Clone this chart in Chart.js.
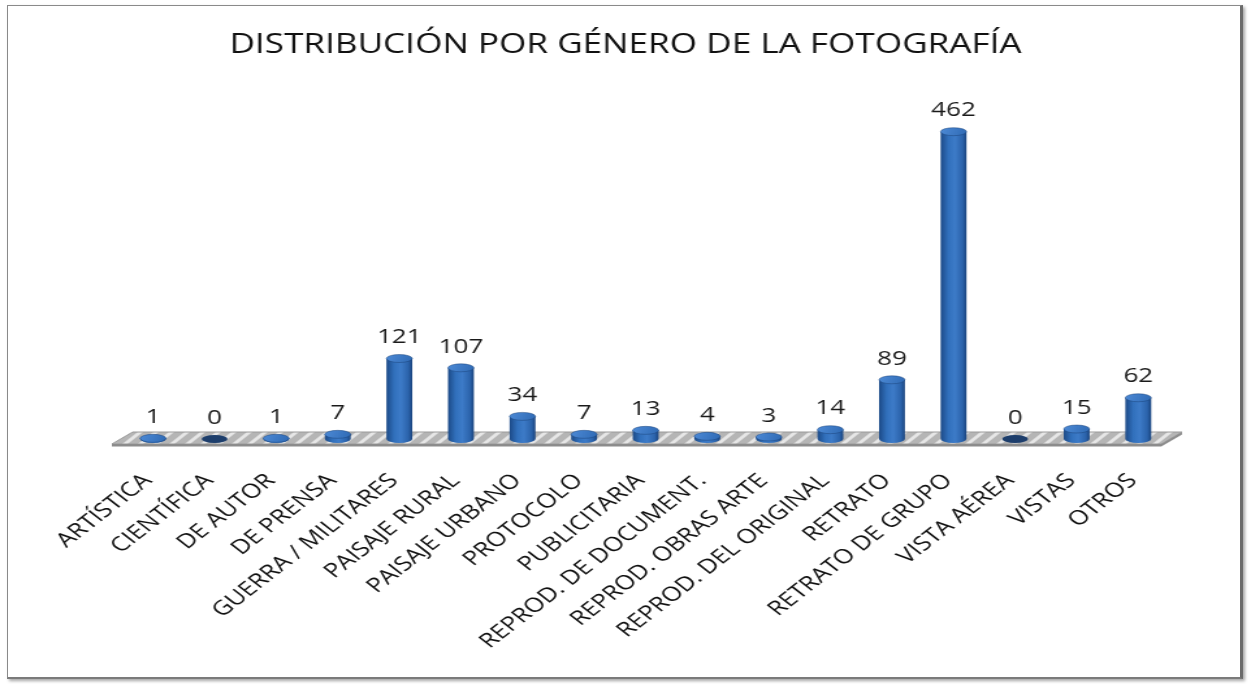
<!DOCTYPE html>
<html>
<head>
<meta charset="utf-8">
<script src="https://cdn.jsdelivr.net/npm/chart.js@4.4.0/dist/chart.umd.min.js"></script>
<style>
  html, body { margin: 0; padding: 0; background: #fff; overflow: hidden; }
  /* the reference is an Excel chart stretched sideways, so the chart is drawn narrow and stretched */
  #wrap { position: absolute; left: 0; top: 0; width: 962px; height: 684px; transform: scaleX(1.3004); transform-origin: 0 0; }
  #frame { position: absolute; left: 7px; top: 5px; width: 1232px; height: 671px;
           border: 1px solid #8a8a8a; border-right: 3px solid #6b6b6b; border-bottom: 2px solid #7a7a7a;
           box-shadow: 2px 2px 3px rgba(0,0,0,0.35); pointer-events: none; }
</style>
</head>
<body>
<div id="wrap"><canvas id="chart" width="962" height="684" style="width:962px;height:684px"></canvas></div>
<div id="frame"></div>
<script>
// --- data ---
const chartTitle = 'DISTRIBUCIÓN POR GÉNERO DE LA FOTOGRAFÍA';
const categories = [
  'ARTÍSTICA', 'CIENTÍFICA', 'DE AUTOR', 'DE PRENSA', 'GUERRA / MILITARES',
  'PAISAJE RURAL', 'PAISAJE URBANO', 'PROTOCOLO', 'PUBLICITARIA', 'REPROD. DE DOCUMENT.',
  'REPROD. OBRAS ARTE', 'REPROD. DEL ORIGINAL', 'RETRATO', 'RETRATO DE GRUPO',
  'VISTA AÉREA', 'VISTAS', 'OTROS'
];
const values = [1, 0, 1, 7, 121, 107, 34, 7, 13, 4, 3, 14, 89, 462, 0, 15, 62];

const BAR_PCT = 0.42;
const RY = 4; // ellipse half height of the cylinder caps

function halfWidth(chart) {
  return chart.chartArea.width / categories.length * BAR_PCT / 2;
}

function sideFill(ctx, cx, hw) {
  const g = ctx.createLinearGradient(cx - hw, 0, cx + hw, 0);
  g.addColorStop(0, '#1c4a87');
  g.addColorStop(0.3, '#3170bc');
  g.addColorStop(0.55, '#3d7bc8');
  g.addColorStop(0.85, '#2b63ab');
  g.addColorStop(1, '#19437d');
  return g;
}

// striped grey floor
function floorPattern(ctx) {
  const pc = document.createElement('canvas');
  pc.width = 12; pc.height = 12;
  const p = pc.getContext('2d');
  p.fillStyle = '#b5b5b5';
  p.fillRect(0, 0, 12, 12);
  p.strokeStyle = '#e6e6e6';
  p.lineWidth = 3;
  p.beginPath();
  p.moveTo(0, 12); p.lineTo(12, 0);
  p.moveTo(-6, 6); p.lineTo(6, -6);
  p.moveTo(6, 18); p.lineTo(18, 6);
  p.stroke();
  return ctx.createPattern(pc, 'repeat');
}

const cylinderPlugin = {
  id: 'cylinder',
  beforeDatasetsDraw(chart) {
    const ctx = chart.ctx;
    const { left, right } = chart.chartArea;
    const y0 = chart.scales.y.getPixelForValue(0);
    ctx.save();
    // top of the floor
    ctx.beginPath();
    ctx.moveTo(left - 8, y0 + 5);
    ctx.lineTo(left + 8, y0 - 7);
    ctx.lineTo(right + 10, y0 - 7);
    ctx.lineTo(right - 6, y0 + 5);
    ctx.closePath();
    ctx.fillStyle = floorPattern(ctx);
    ctx.fill();
    ctx.strokeStyle = '#9a9a9a';
    ctx.lineWidth = 1;
    ctx.stroke();
    // front and side edges
    ctx.fillStyle = '#8c8c8c';
    ctx.fillRect(left - 8, y0 + 5, right - left + 2, 2.5);
    ctx.beginPath();
    ctx.moveTo(right - 6, y0 + 5);
    ctx.lineTo(right + 10, y0 - 7);
    ctx.lineTo(right + 10, y0 - 4.5);
    ctx.lineTo(right - 6, y0 + 7.5);
    ctx.closePath();
    ctx.fill();
    ctx.restore();
  },
  afterDatasetsDraw(chart) {
    const ctx = chart.ctx;
    const meta = chart.getDatasetMeta(0);
    const y0 = chart.scales.y.getPixelForValue(0);
    const hw = halfWidth(chart);
    ctx.save();
    meta.data.forEach((bar, i) => {
      const cx = bar.x;
      const yTop = bar.y;
      if (values[i] === 0) {
        ctx.beginPath();
        ctx.ellipse(cx, y0, hw, RY, 0, 0, Math.PI * 2);
        ctx.fillStyle = '#1d3e6c';
        ctx.fill();
      } else {
        // rounded bottom
        ctx.beginPath();
        ctx.ellipse(cx, y0, hw, RY, 0, 0, Math.PI);
        ctx.fillStyle = sideFill(ctx, cx, hw);
        ctx.fill();
        // top cap
        const g = ctx.createLinearGradient(cx - hw, yTop - RY, cx + hw, yTop + RY);
        g.addColorStop(0, '#4d8ad6');
        g.addColorStop(1, '#2f6ab4');
        ctx.beginPath();
        ctx.ellipse(cx, yTop, hw, RY, 0, 0, Math.PI * 2);
        ctx.fillStyle = g;
        ctx.fill();
        ctx.strokeStyle = 'rgba(25,65,120,0.6)';
        ctx.lineWidth = 0.8;
        ctx.stroke();
      }
      // value label
      ctx.font = '20px "Open Sans"';
      ctx.fillStyle = '#1a1a1a';
      ctx.textAlign = 'center';
      ctx.textBaseline = 'middle';
      ctx.fillText(String(values[i]), cx, yTop - 21);
    });
    ctx.restore();
  }
};

const ctx = document.getElementById('chart').getContext('2d');
new Chart(ctx, {
  type: 'bar',
  data: {
    labels: categories,
    datasets: [{
      data: values,
      backgroundColor: (c) => {
        const chart = c.chart;
        if (!chart.chartArea || c.dataIndex === undefined) return '#3170bc';
        const cx = chart.scales.x.getPixelForValue(c.dataIndex);
        return sideFill(chart.ctx, cx, halfWidth(chart));
      },
      borderWidth: 0,
      categoryPercentage: 1,
      barPercentage: BAR_PCT
    }]
  },
  options: {
    responsive: false,
    animation: false,
    layout: { padding: 0 },
    plugins: {
      legend: { display: false },
      tooltip: { enabled: false },
      title: {
        display: true,
        text: chartTitle,
        color: '#111',
        font: { family: 'Open Sans', size: 27, weight: 'normal' },
        padding: { top: 29, bottom: 45 }
      }
    },
    scales: {
      x: {
        grid: { display: false },
        border: { display: false },
        ticks: {
          autoSkip: false,
          minRotation: 45,
          maxRotation: 45,
          padding: 22,
          labelOffset: -4,
          color: '#111',
          font: { family: 'Open Sans', size: 20 }
        },
        afterFit: (s) => { s.height = 245; }
      },
      y: {
        min: 0,
        max: 500,
        grid: { display: false },
        border: { display: false },
        ticks: { display: false },
        afterFit: (s) => { s.width = 94; }
      },
      yRight: {
        type: 'linear',
        position: 'right',
        grid: { display: false },
        border: { display: false },
        ticks: { display: false },
        afterFit: (s) => { s.width = 63; }
      }
    }
  },
  plugins: [cylinderPlugin]
});
</script>
</body>
</html>
